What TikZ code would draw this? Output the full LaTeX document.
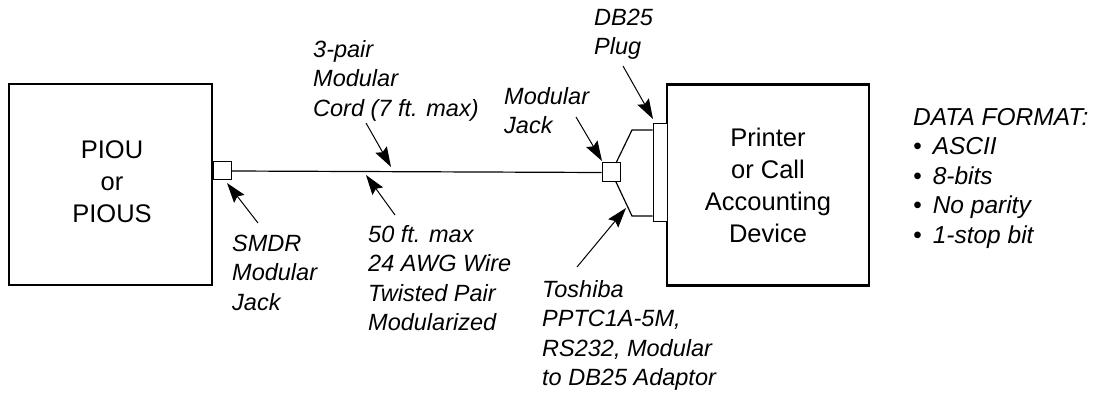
\documentclass[tikz,border=0pt]{standalone}
\usepackage{fontspec}
\setmainfont{Liberation Sans}
\usetikzlibrary{arrows.meta}
\newcommand{\fl}{\rule{0pt}{18pt}}
\tikzset{
  x=1pt,y=-1pt,
  mainbox/.style={draw,line width=2.2pt,inner sep=0pt,align=center,font=\fontsize{25.5}{32}\selectfont},
  smallbox/.style={draw,line width=1pt,fill=white,inner sep=0pt},
  lbl/.style={inner sep=0pt,align=left,anchor=north west,font=\fontsize{23.5}{29.5}\selectfont\itshape},
  wire/.style={line width=1.2pt},
  ptr/.style={line width=1pt,-{Stealth[length=20pt,width=13pt,inset=3pt]}}
}
\begin{document}
\begin{tikzpicture}
\useasboundingbox (0,0) rectangle (1098,393);
\node[mainbox,minimum width=203pt,minimum height=201pt] (piou) at (110.5,184.5) {\hspace*{3pt}PIOU\\\hspace*{3pt}or\\\hspace*{3pt}PIOUS\rule[-5pt]{0pt}{5pt}};
\node[mainbox,minimum width=202pt,minimum height=201pt] (dev) at (768,185) {Printer\\or Call\\Accounting\\Device};
\node[smallbox,minimum width=18pt,minimum height=18pt] (smdr) at (222,171) {};
\node[smallbox,minimum width=18pt,minimum height=19pt] (jack) at (611,172.5) {};
\node[smallbox,minimum width=14pt,minimum height=97pt] (plug) at (660,172.5) {};
\coordinate (up) at (632,130);
\coordinate (lo) at (632,216);
\coordinate (js) at (616,163);
\coordinate (jn) at (616,182);
\draw[wire] (smdr.east) -- (jack.west);
\draw[wire] (js) -- (up) -- (up -| plug.west);
\draw[wire] (jn) -- (lo) -- (lo -| plug.west);
\node[lbl] (tcord) at (313,39) {\fl 3-pair\\Modular\\Cord (7 ft. max)};
\node[lbl] (tjack) at (504,86) {\fl Modular\\Jack};
\node[lbl] (tdb) at (594,7) {\fl DB25\\Plug};
\node[lbl] (tsmdr) at (232,233) {\fl SMDR\\Modular\\Jack};
\node[lbl] (tfifty) at (368,224) {\fl 50 ft. max\\24 AWG Wire\\Twisted Pair\\Modularized};
\node[lbl] (tosh) at (542,279) {\fl Toshiba\\PPTC1A-5M,\\RS232, Modular\\to DB25 Adaptor};
\node[lbl,font=\fontsize{24.5}{29.5}\selectfont\itshape] (fmt) at (913,107) {\fl DATA FORMAT:\\\textbullet\hspace{11pt}ASCII\\\textbullet\hspace{11pt}8-bits\\\textbullet\hspace{11pt}No parity\\\textbullet\hspace{11pt}1-stop bit};
\coordinate (a1s) at (366,123); \coordinate (a1e) at (391,167);
\coordinate (a2s) at (395,215); \coordinate (a2e) at (366,175);
\coordinate (a3s) at (258,223); \coordinate (a3e) at (227,183);
\coordinate (a4s) at (576,117); \coordinate (a4e) at (602,161);
\coordinate (a5s) at (623,66); \coordinate (a5e) at (653,119);
\coordinate (a6s) at (577,267); \coordinate (a6e) at (626,208);
\draw[ptr] (a1s) -- (a1e);
\draw[ptr] (a2s) -- (a2e);
\draw[ptr] (a3s) -- (a3e);
\draw[ptr] (a4s) -- (a4e);
\draw[ptr] (a5s) -- (a5e);
\draw[ptr] (a6s) -- (a6e);
\end{tikzpicture}
\end{document}
